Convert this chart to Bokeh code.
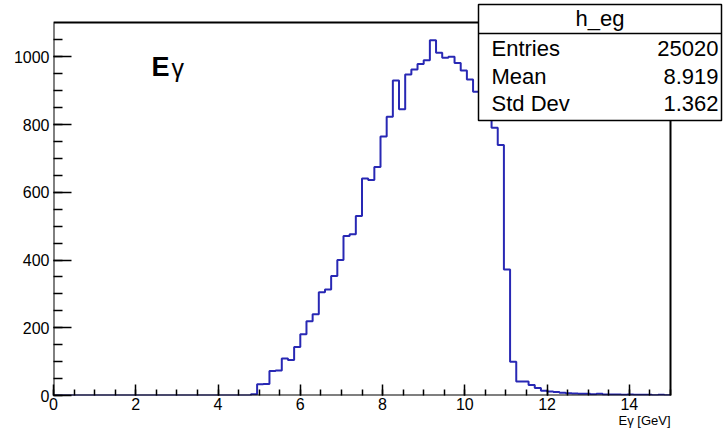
import numpy as np
from bokeh.plotting import figure
from bokeh.models import Range1d, FixedTicker, Title
from bokeh.core.properties import value
from bokeh.embed import file_html
from bokeh.resources import INLINE

# ---------------- data ----------------
x_low, x_high, n_bins = 0.0, 15.0, 100
counts = [0] * 32 + [
    4, 33, 34, 72, 74, 109, 105, 143, 181, 219,
    240, 305, 313, 353, 400, 471, 476, 530, 641, 636,
    675, 765, 823, 930, 845, 948, 963, 979, 990, 1049,
    1012, 997, 1000, 982, 960, 933, 897, 862, 826, 791,
    740, 372, 100, 41, 41, 31, 22, 14, 12, 10,
    8, 7, 6, 5, 5, 4, 5, 3, 3, 3,
    2, 3, 2, 2, 2, 1, 2, 1,
]
x_tick_values = [0, 2, 4, 6, 8, 10, 12, 14]
y_tick_values = [0, 200, 400, 600, 800, 1000]
stats_title = "h_eg"
stats_names = ["Entries", "Mean", "Std Dev"]
stats_values = ["25020", "8.919", "1.362"]
x_title = "Eγ [GeV]"
label_main = "E"
label_greek = "γ"

# ---------------- geometry ----------------
W, H = 723, 434
LEFT, BOTTOM = 53, 39
frame_w = W - LEFT          # bokeh frame width (px)
frame_h = H - BOTTOM        # bokeh frame height (px)
root_w = 670 - LEFT         # ROOT frame width (px)
root_h = frame_h - 22       # ROOT frame height (px)

edges = np.linspace(x_low, x_high, n_bins + 1)
ymax = 1.05 * max(counts)
x_end = x_high * frame_w / root_w
y_end = ymax * frame_h / root_h

def px_x(px):
    return (px - LEFT) / frame_w * x_end

def px_y(py):
    return (frame_h - py) / frame_h * y_end

def base_y(py, size):
    # compensate the baseline shift of the text glyph
    return px_y(py - 0.4 * size)

FONT = value("Liberation Sans")

p = figure(width=W, height=H, output_backend="svg", toolbar_location=None,
           x_range=Range1d(0, x_end), y_range=Range1d(0, y_end),
           min_border_left=LEFT, min_border_right=0, min_border_top=0,
           min_border_bottom=BOTTOM)
p.background_fill_color = "white"
p.border_fill_color = "white"
p.outline_line_color = None
p.grid.visible = False

# histogram
xs = list(edges[:-1]) + [edges[-1]]
ys = list(counts) + [counts[-1]]
p.step(x=xs, y=ys, mode="after", line_color="#2828b4", line_width=2)

# ROOT frame
p.quad(left=[x_low], right=[x_high], bottom=[0], top=[ymax],
       fill_color=None, line_color="black", line_width=2)

# in-plot label
p.text(x=[px_x(151)], y=[base_y(77, 27)], text=[label_main], text_font=FONT,
       text_font_size=value("27px"), text_font_style="bold",
       text_baseline="alphabetic", text_align="left", text_color="black")
p.text(x=[px_x(171)], y=[base_y(77, 25)], text=[label_greek], text_font=FONT,
       text_font_size=value("25px"), text_baseline="alphabetic",
       text_align="left", text_color="black")

# stats box
bx0, bx1, by0, by1, bdiv = 478, 721, 4, 120, 33
SZ = 22
p.quad(left=[px_x(bx0)], right=[px_x(bx1)], top=[px_y(by0)], bottom=[px_y(by1)],
       fill_color="white", line_color="black", line_width=1.5)
p.segment(x0=[px_x(bx0)], x1=[px_x(bx1)], y0=[px_y(bdiv)], y1=[px_y(bdiv)],
          line_color="black", line_width=1.5)
p.text(x=[px_x((bx0 + bx1) / 2)], y=[base_y(27, SZ)], text=[stats_title],
       text_font=FONT, text_font_size=value(f"{SZ}px"), text_align="center",
       text_baseline="alphabetic", text_color="black")
row_base = [57, 84.5, 111.5]
p.text(x=[px_x(491)] * 3, y=[base_y(b, SZ) for b in row_base], text=stats_names,
       text_font=FONT, text_font_size=value(f"{SZ}px"), text_align="left",
       text_baseline="alphabetic", text_color="black")
p.text(x=[px_x(718)] * 3, y=[base_y(b, SZ) for b in row_base], text=stats_values,
       text_font=FONT, text_font_size=value(f"{SZ}px"), text_align="right",
       text_baseline="alphabetic", text_color="black")

# axes
xa = p.xaxis[0]
xa.ticker = FixedTicker(ticks=x_tick_values,
                        minor_ticks=list(np.arange(0, 15.01, 0.5)))
ya = p.yaxis[0]
ya.ticker = FixedTicker(ticks=y_tick_values,
                        minor_ticks=list(np.arange(0, 1051, 50)))
for ax in (xa, ya):
    ax.axis_line_color = None
    ax.major_tick_out = 0
    ax.minor_tick_out = 0
    ax.major_tick_line_color = "black"
    ax.minor_tick_line_color = "black"
    ax.major_tick_line_width = 1.5
    ax.minor_tick_line_width = 1.5
    ax.major_label_text_font = "Liberation Sans"
    ax.major_label_text_font_size = "16px"
    ax.major_label_text_color = "black"
xa.major_tick_in = 11
xa.minor_tick_in = 6
xa.major_label_standoff = 2
ya.major_tick_in = 18
ya.minor_tick_in = 9
ya.major_label_standoff = 4

t = Title(text=x_title, align="right", offset=53, standoff=0,
          text_font="Liberation Sans", text_font_size="13px",
          text_font_style="normal", text_color="black", vertical_align="top")
p.add_layout(t, "below")

open("out.html", "w").write(file_html(p, INLINE))
